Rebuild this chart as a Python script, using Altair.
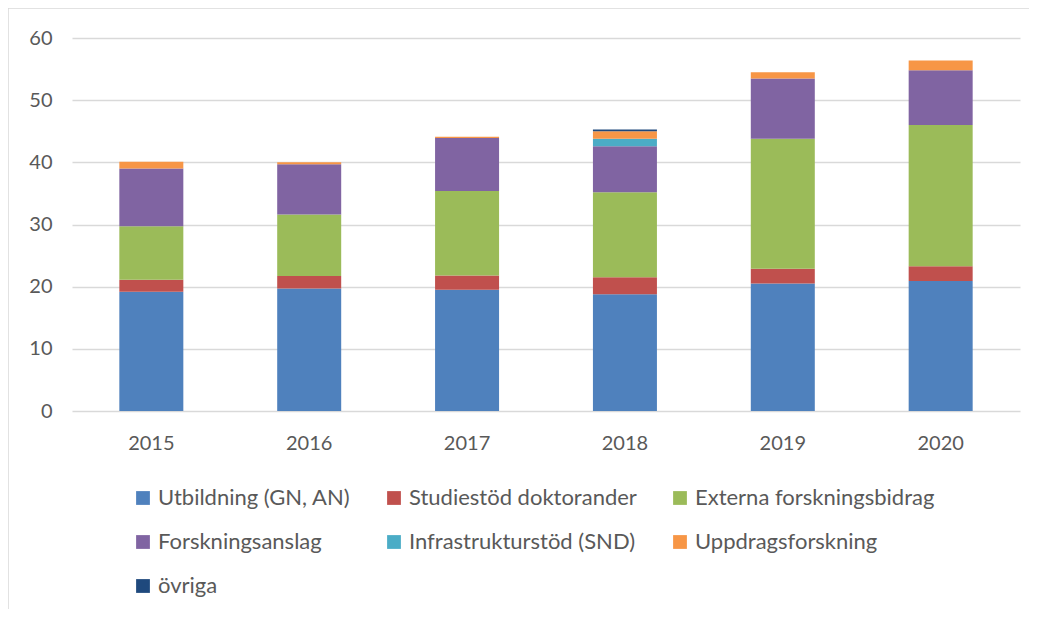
import altair as alt
import pandas as pd

years = ["2015", "2016", "2017", "2018", "2019", "2020"]
series = [
    "Utbildning (GN, AN)",
    "Studiestöd doktorander",
    "Externa forskningsbidrag",
    "Forskningsanslag",
    "Infrastrukturstöd (SND)",
    "Uppdragsforskning",
    "övriga",
]
utbildning = [19.2, 19.7, 19.5, 18.8, 20.5, 20.9]
studiestod = [1.9, 2.0, 2.3, 2.7, 2.4, 2.4]
externa = [8.6, 9.9, 13.6, 13.7, 20.9, 22.7]
forskningsanslag = [9.3, 8.1, 8.5, 7.4, 9.7, 8.8]
infrastruktur = [0.0, 0.0, 0.0, 1.2, 0.0, 0.0]
uppdrag = [1.1, 0.3, 0.2, 1.2, 1.0, 1.6]
ovriga = [0.0, 0.0, 0.0, 0.3, 0.0, 0.0]
colors = ["#4F81BD", "#C0504D", "#9BBB59", "#8064A2", "#4BACC6", "#F79646", "#1F497D"]

values = [utbildning, studiestod, externa, forskningsanslag, infrastruktur, uppdrag, ovriga]
rows = []
for si, (name, vals) in enumerate(zip(series, values)):
    for y, v in zip(years, vals):
        rows.append({"year": y, "series": name, "order": si, "value": v})
df = pd.DataFrame(rows)

FONT = "Lato"
TXT = "#595959"

one = pd.DataFrame({"a": [0]})
top_line = alt.Chart(one).mark_rule(color="#D9D9D9", strokeWidth=1.5, clip=False).encode(
    x=alt.value(-64), x2=alt.value(975), y=alt.value(-30)
)
left_line = alt.Chart(one).mark_rule(color="#D9D9D9", strokeWidth=1.5, clip=False).encode(
    x=alt.value(-64), y=alt.value(-30), y2=alt.value(600)
)

bars = alt.Chart(df).mark_bar(size=64).encode(
    x=alt.X("year:N", sort=years, title=None,
            scale=alt.Scale(paddingInner=0.595, paddingOuter=0.3),
            axis=alt.Axis(labelAngle=0, domain=False, ticks=False, grid=False, labelPadding=22,
                          labelFontSize=20, labelColor=TXT, labelFont=FONT)),
    y=alt.Y("value:Q", stack="zero", title=None,
            scale=alt.Scale(domain=[0, 60], nice=False),
            axis=alt.Axis(values=[0, 10, 20, 30, 40, 50, 60], domain=False, ticks=False,
                          labelPadding=20, labelFontSize=20, labelColor=TXT,
                          labelFont=FONT, gridColor="#D9D9D9", gridWidth=1.5)),
    color=alt.Color("series:N", sort=series,
                    scale=alt.Scale(domain=series, range=colors),
                    legend=alt.Legend(title=None, orient="none", legendX=60, legendY=449,
                                      columns=3, symbolType="square", symbolSize=190,
                                      symbolStrokeWidth=0, labelFontSize=22, labelFont=FONT,
                                      labelColor=TXT, columnPadding=32, rowPadding=22,
                                      labelLimit=400, direction="horizontal")),
    order=alt.Order("order:Q"),
)

chart = alt.layer(bars, top_line, left_line).properties(
    width=948, height=373,
    background="white",
    autosize=alt.AutoSizeParams(type="none"),
    padding={"left": 64, "top": 30, "right": 9, "bottom": 198},
).configure_view(stroke="transparent", strokeWidth=0)

chart.save("out.html", embed_options={"renderer": "svg", "actions": False})
